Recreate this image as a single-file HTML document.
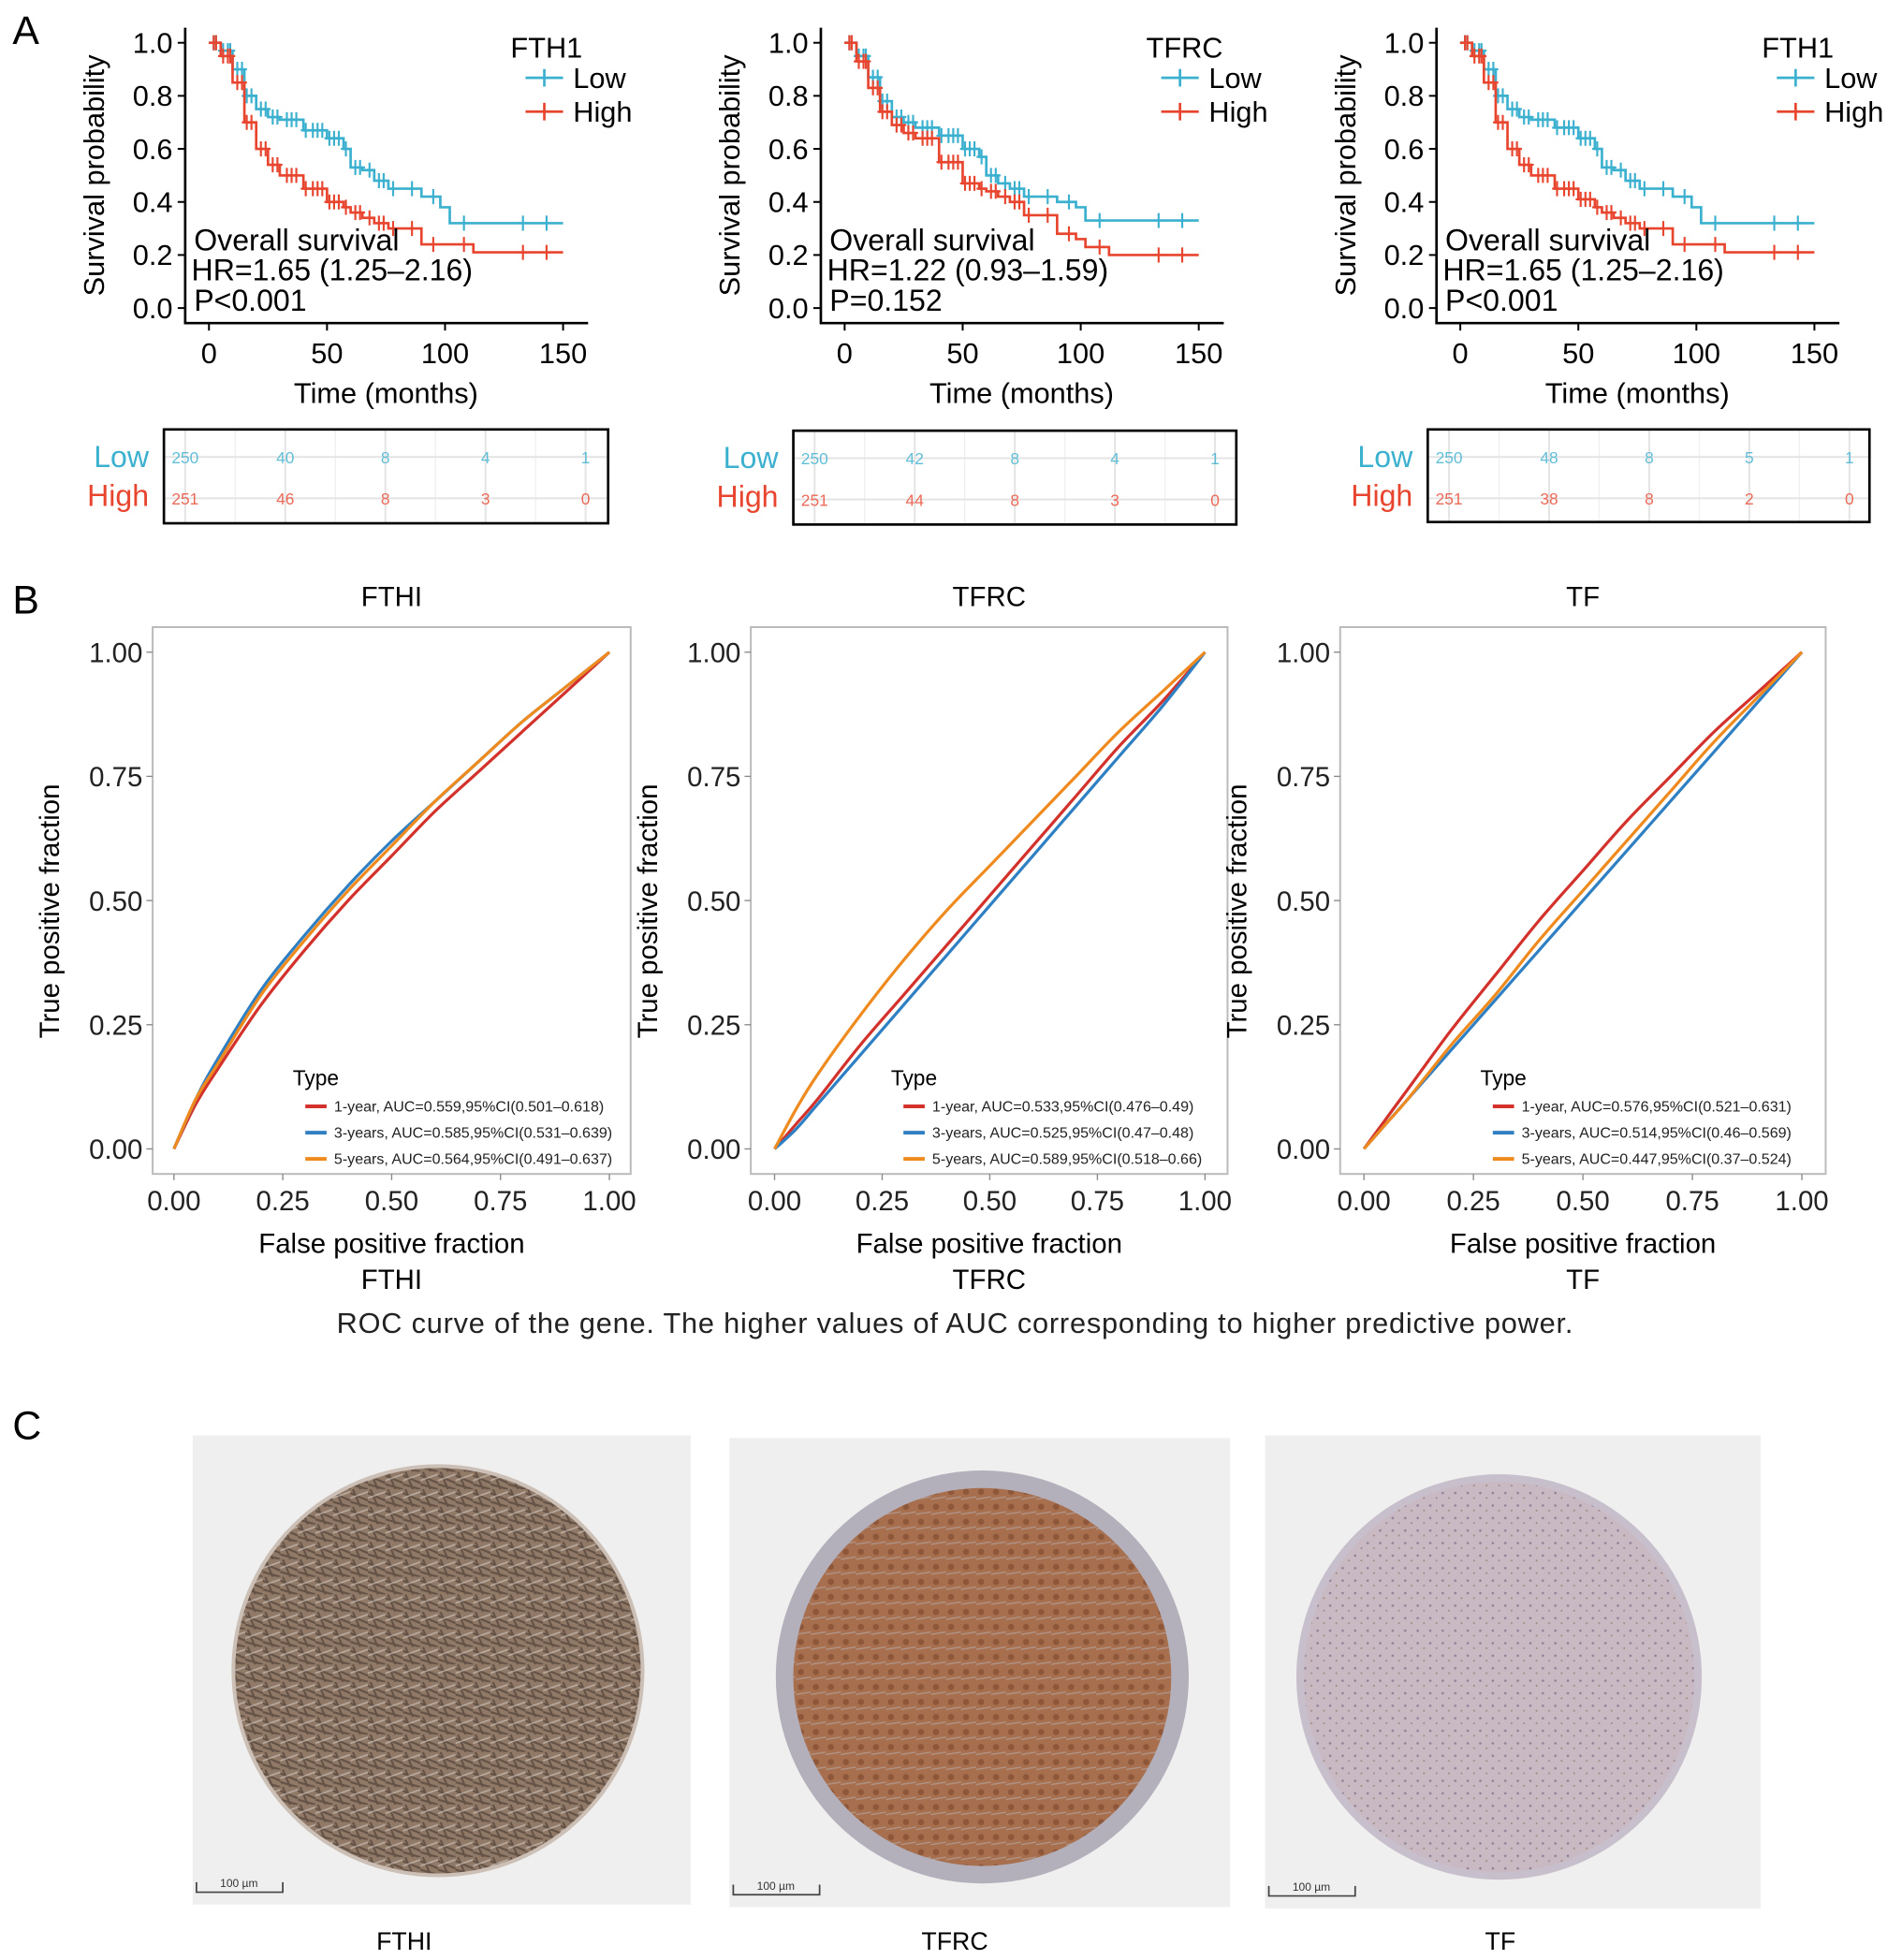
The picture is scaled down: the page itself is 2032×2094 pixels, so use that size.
<!DOCTYPE html>
<html><head><meta charset="utf-8"><style>
html,body{margin:0;padding:0;background:#fff}
svg{display:block}
text{font-family:"Liberation Sans",Arial,sans-serif}
</style></head><body>
<svg id="fig" width="2032" height="2094" viewBox="0 0 1520 1566" xmlns="http://www.w3.org/2000/svg">
<defs>
<pattern id="tex1" width="14" height="14" patternUnits="userSpaceOnUse"><rect width="14" height="14" fill="#8d7563"/><path d="M0 3L14 9M0 10L14 14M2 0L8 14" stroke="#4a3a2e" stroke-width="1.6" opacity=".7"/><path d="M0 7L14 2" stroke="#d9cfc6" stroke-width="1.2" opacity=".6"/></pattern>
<pattern id="tex2" width="12" height="12" patternUnits="userSpaceOnUse"><rect width="12" height="12" fill="#a66c48"/><circle cx="4" cy="4" r="2.5" fill="#8c5232"/><path d="M0 10L12 8" stroke="#b8aeb0" stroke-width="1" opacity=".6"/></pattern>
<pattern id="tex3" width="10" height="10" patternUnits="userSpaceOnUse"><rect width="10" height="10" fill="#c9b9c2"/><circle cx="3" cy="3" r="1" fill="#8e7e95"/><circle cx="8" cy="7" r="0.8" fill="#a08a80"/></pattern>
</defs>
<g id="root"></g>
</svg>
<script>
// ===== KM data (time in months, survival probability) =====
const kmTimes = [0,5,10,15,20,25,30,40,50,57,60,65,70,76,90,98,102,112,150];
const km1Low  = [1,0.97,0.9,0.8,0.75,0.72,0.71,0.67,0.64,0.6,0.53,0.52,0.48,0.45,0.42,0.38,0.32,0.32,0.32];
const km1High = [1,0.95,0.85,0.7,0.6,0.54,0.5,0.45,0.4,0.38,0.36,0.34,0.32,0.3,0.24,0.24,0.24,0.21,0.21];
const km2Low  = [1,0.95,0.87,0.78,0.72,0.7,0.68,0.65,0.6,0.57,0.5,0.47,0.45,0.42,0.4,0.38,0.33,0.33,0.33];
const km2High = [1,0.93,0.83,0.74,0.69,0.66,0.64,0.55,0.47,0.45,0.44,0.42,0.4,0.35,0.28,0.26,0.23,0.2,0.2];
const km3Low  = [1,0.97,0.9,0.8,0.75,0.72,0.71,0.68,0.64,0.6,0.53,0.52,0.48,0.45,0.42,0.38,0.32,0.32,0.32];
const km3High = [1,0.95,0.85,0.7,0.6,0.54,0.5,0.45,0.41,0.38,0.36,0.34,0.32,0.3,0.24,0.24,0.24,0.21,0.21];
const censorTimes = [2,3,6,8,9,12,14,16,18,22,24,27,29,33,35,37,41,44,46,48,51,53,55,58,62,64,68,72,74,78,86,95,108,133,143];
const kmTicks = [0,50,100,150];
const kmYTicks = ["0.0","0.2","0.4","0.6","0.8","1.0"];
const riskLow1=["250","40","8","4","1"], riskHigh1=["251","46","8","3","0"];
const riskLow2=["250","42","8","4","1"], riskHigh2=["251","44","8","3","0"];
const riskLow3=["250","48","8","5","1"], riskHigh3=["251","38","8","2","0"];
// ===== ROC data (TPR at FPR grid) =====
const fprGrid = [0,0.05,0.1,0.2,0.3,0.4,0.5,0.6,0.7,0.8,0.9,1];
const roc1y1 = [0,0.09,0.16,0.29,0.4,0.5,0.59,0.68,0.76,0.84,0.92,1];
const roc1y3 = [0,0.1,0.18,0.32,0.43,0.53,0.62,0.7,0.78,0.86,0.93,1];
const roc1y5 = [0,0.1,0.17,0.31,0.42,0.52,0.61,0.7,0.78,0.86,0.93,1];
const roc2y1 = [0,0.05,0.1,0.21,0.31,0.41,0.51,0.61,0.71,0.81,0.9,1];
const roc2y3 = [0,0.04,0.09,0.19,0.29,0.39,0.49,0.59,0.69,0.79,0.89,1];
const roc2y5 = [0,0.08,0.15,0.27,0.38,0.48,0.57,0.66,0.75,0.84,0.92,1];
const roc3y1 = [0,0.06,0.12,0.24,0.35,0.46,0.56,0.66,0.75,0.84,0.92,1];
const roc3y3 = [0,0.05,0.1,0.2,0.3,0.4,0.5,0.6,0.7,0.8,0.9,1];
const roc3y5 = [0,0.05,0.1,0.21,0.31,0.42,0.52,0.62,0.72,0.82,0.91,1];
const rocTicks = ["0.00","0.25","0.50","0.75","1.00"];

const NS="http://www.w3.org/2000/svg";
const root=document.getElementById('root');
function mk(tag,attrs,parent,txt){const e=document.createElementNS(NS,tag);for(const k in attrs)e.setAttribute(k,attrs[k]);if(txt!==undefined)e.textContent=txt;(parent||root).appendChild(e);return e;}
const BLUE="#3bb0cf",RED="#e8452f";

function kmPanel(x0,x150,legendTitle,low,high,hr,p,rl,rh,box,tag){
  const g=mk('g',{});
  
  
  const sx=t=>x0+(x150-x0)*t/150, sy=v=>246-212*v;
  const axL=x0-19;
  mk('path',{d:`M${axL} 22V258H${x150+20}`,stroke:'#000','stroke-width':2,fill:'none'},g);
  kmYTicks.forEach((t,i)=>{const y=sy(+t);mk('line',{x1:axL-6,x2:axL,y1:y,y2:y,stroke:'#000','stroke-width':1.5},g);
    const tx=mk('text',{x:axL-10,y:y+8,'font-size':23,'text-anchor':'end'},g,t);});
  kmTicks.forEach(t=>{const x=sx(t);mk('line',{x1:x,x2:x,y1:258,y2:264,stroke:'#000','stroke-width':1.5},g);
    const tx=mk('text',{x:x,y:290,'font-size':23,'text-anchor':'middle'},g,t);});
  const xt=mk('text',{x:(x0+x150)/2,y:322,'font-size':23,'text-anchor':'middle'},g,'Time (months)');
  const yt=mk('text',{transform:`translate(${axL-65},140) rotate(-90)`,'font-size':23,'text-anchor':'middle'},g,'Survival probability');
  [[low,BLUE,'low'],[high,RED,'high']].forEach(([s,c,n])=>{
    let d=`M${sx(kmTimes[0])} ${sy(s[0])}`;
    for(let i=1;i<kmTimes.length;i++){d+=`H${sx(kmTimes[i])}V${sy(s[i])}`;}
    const pth=mk('path',{d:d,stroke:c,'stroke-width':2,fill:'none'},g);
    
    censorTimes.forEach(t=>{let k=0;for(let i=0;i<kmTimes.length;i++)if(kmTimes[i]<=t)k=i;
      const x=sx(t),y=sy(s[k]);mk('path',{d:`M${x} ${y-6}V${y+6}M${x-4} ${y}H${x+4}`,stroke:c,'stroke-width':1.6},g);});
  });
  const lx=x150-30;
  mk('text',{x:lx-12,y:46,'font-size':23},g,legendTitle);
  [['Low',BLUE,62],['High',RED,89]].forEach(([n,c,y])=>{
    const le=mk('g',{},g);
    mk('path',{d:`M${lx} ${y}H${lx+30}M${lx+15} ${y-7}V${y+7}`,stroke:c,'stroke-width':2},le);
    mk('text',{x:lx+38,y:y+8,'font-size':23},le,n);});
  const ann=mk('g',{},g);
  mk('text',{x:axL+7,y:200,'font-size':24},ann,'Overall survival');
  mk('text',{x:axL+5,y:224,'font-size':24},ann,hr);
  mk('text',{x:axL+7,y:248,'font-size':24},ann,p);
  // risk table
  const t=mk('g',{},g);
  const [bx,by,bw,bh]=box;
  for(let i=0;i<5;i++){const cx=bx+17+i*80;mk('line',{x1:cx,x2:cx,y1:by,y2:by+bh,stroke:'#e4e4e4','stroke-width':1.5},t);
    if(i<4)mk('line',{x1:cx+40,x2:cx+40,y1:by,y2:by+bh,stroke:'#f0f0f0','stroke-width':1},t);}
  [by+22,by+55].forEach(y=>mk('line',{x1:bx,x2:bx+bw,y1:y,y2:y,stroke:'#e4e4e4','stroke-width':1.5},t));
  mk('rect',{x:bx,y:by,width:bw,height:bh,fill:'none',stroke:'#000','stroke-width':2},t);
  rl.forEach((v,i)=>mk('text',{x:bx+17+i*80,y:by+27,'font-size':13,fill:BLUE,'text-anchor':'middle',opacity:.8},t,v));
  rh.forEach((v,i)=>mk('text',{x:bx+17+i*80,y:by+60,'font-size':13,fill:RED,'text-anchor':'middle',opacity:.8},t,v));
  mk('text',{x:bx-12,y:by+30,'font-size':24,fill:BLUE,'text-anchor':'end'},t,'Low');
  mk('text',{x:bx-12,y:by+61,'font-size':24,fill:RED,'text-anchor':'end'},t,'High');
}
kmPanel(167,450,'FTH1',km1Low,km1High,'HR=1.65 (1.25–2.16)','P<0.001',riskLow1,riskHigh1,[131,343,355,75],'fth1');
kmPanel(675,958,'TFRC',km2Low,km2High,'HR=1.22 (0.93–1.59)','P=0.152',riskLow2,riskHigh2,[634,344,354,75],'tfrc');
kmPanel(1167,1450,'FTH1',km3Low,km3High,'HR=1.65 (1.25–2.16)','P<0.001',riskLow3,riskHigh3,[1141,343,353,74],'tf');

function smooth(pts){
  let d=`M${pts[0][0].toFixed(1)} ${pts[0][1].toFixed(1)}`;
  for(let i=0;i<pts.length-1;i++){
    const p0=pts[i-1]||pts[i],p1=pts[i],p2=pts[i+1],p3=pts[i+2]||p2;
    const c1=[p1[0]+(p2[0]-p0[0])/6,p1[1]+(p2[1]-p0[1])/6];
    const c2=[p2[0]-(p3[0]-p1[0])/6,p2[1]-(p3[1]-p1[1])/6];
    d+=`C${c1[0].toFixed(1)} ${c1[1].toFixed(1)} ${c2[0].toFixed(1)} ${c2[1].toFixed(1)} ${p2[0].toFixed(1)} ${p2[1].toFixed(1)}`;
  }
  return d;
}
function rocPanel(box,x0,x1,title,gene,series,labels,tag){
  const g=mk('g',{});
  
  
  const [bx,by,bw,bh]=box;
  const sx=v=>x0+(x1-x0)*v, sy=v=>918-397*v;
  mk('rect',{x:bx,y:by,width:bw,height:bh,fill:'#fff',stroke:'#bbb','stroke-width':1.5},g);
  rocTicks.forEach(t=>{const v=+t;
    mk('line',{x1:bx-5,x2:bx,y1:sy(v),y2:sy(v),stroke:'#888'},g);
    const a=mk('text',{x:bx-8,y:sy(v)+8,'font-size':22,'text-anchor':'end',fill:'#222'},g,t);
    mk('line',{x1:sx(v),x2:sx(v),y1:by+bh,y2:by+bh+5,stroke:'#888'},g);
    const b=mk('text',{x:sx(v),y:967,'font-size':22,'text-anchor':'middle',fill:'#222'},g,t);});
  const tt=mk('text',{x:bx+bw/2,y:484,'font-size':22,'text-anchor':'middle'},g,title);
  const xt=mk('text',{x:bx+bw/2,y:1001,'font-size':22,'text-anchor':'middle'},g,'False positive fraction');
  mk('text',{x:bx+bw/2,y:1030,'font-size':22,'text-anchor':'middle'},g,gene);
  const yt=mk('text',{transform:`translate(${bx-75},728) rotate(-90)`,'font-size':22,'text-anchor':'middle'},g,'True positive fraction');
  const cols=['#d3322c','#2f7fc3','#ee8a1e'];
  series.forEach((s,k)=>{
    const pts=fprGrid.map((f,i)=>[sx(f),sy(s[i])]);
    const p=mk('path',{d:smooth(pts),stroke:cols[k],'stroke-width':2.4,fill:'none','stroke-linejoin':'round'},g);
    
  });
  const lx=bx+112;
  mk('text',{x:lx,y:867,'font-size':17},g,'Type');
  labels.forEach((l,k)=>{const y=884+k*21;
    const le=mk('g',{},g);
    mk('line',{x1:lx+10,x2:lx+27,y1:y,y2:y,stroke:cols[k],'stroke-width':3},le);
    mk('text',{x:lx+33,y:y+4,'font-size':12,fill:'#222'},le,l);});
}
rocPanel([122,501,382,437],139,487,'FTHI','FTHI',[roc1y1,roc1y3,roc1y5],
 ['1-year, AUC=0.559,95%CI(0.501–0.618)','3-years, AUC=0.585,95%CI(0.531–0.639)','5-years, AUC=0.564,95%CI(0.491–0.637)'],'fth1');
rocPanel([600,501,381,437],619,963,'TFRC','TFRC',[roc2y1,roc2y3,roc2y5],
 ['1-year, AUC=0.533,95%CI(0.476–0.49)','3-years, AUC=0.525,95%CI(0.47–0.48)','5-years, AUC=0.589,95%CI(0.518–0.66)'],'tfrc');
rocPanel([1071,501,388,437],1090,1440,'TF','TF',[roc3y1,roc3y3,roc3y5],
 ['1-year, AUC=0.576,95%CI(0.521–0.631)','3-years, AUC=0.514,95%CI(0.46–0.569)','5-years, AUC=0.447,95%CI(0.37–0.524)'],'tf');

const cap=mk('text',{x:763,y:1065,'font-size':23,'text-anchor':'middle',fill:'#222','textLength':988},root,'ROC curve of the gene. The higher values of AUC corresponding to higher predictive power.');


[['A',10,35],['B',10,490],['C',10,1150]].forEach(([l,x,y])=>{const t=mk('text',{x:x,y:y,'font-size':32},root,l);});

// IHC images
[[154,1147,398,375,350,1335,165,'tex1','FTHI',323,'#cbbfb6',3],[583,1149,400,375,785,1340,165,'tex2','TFRC',763,'#b3b0bb',14],[1011,1147,396,378,1198,1340,162,'tex3','TF',1199,'#c8bfcc',6]].forEach(a=>{
  const [x,y,w,h,cx,cy,r,pat,lab,lx,rim,rw]=a;
  const g=mk('g',{});
  
  
  mk('rect',{x:x,y:y,width:w,height:h,fill:'#efefef'},g);
  mk('circle',{cx:cx,cy:cy,r:r,fill:rim},g);
  mk('circle',{cx:cx,cy:cy,r:r-rw,fill:`url(#${pat})`,opacity:.95},g);
  mk('path',{d:`M${x+3} ${y+h-18}V${y+h-10}H${x+72}V${y+h-18}`,stroke:'#444','stroke-width':1.3,fill:'none'},g);
  mk('text',{x:x+37,y:y+h-14,'font-size':9,'text-anchor':'middle',fill:'#333'},g,'100 µm');
  const t=mk('text',{x:lx,y:1558,'font-size':20,'text-anchor':'middle'},root,lab);
  
});
</script>
</body></html>
